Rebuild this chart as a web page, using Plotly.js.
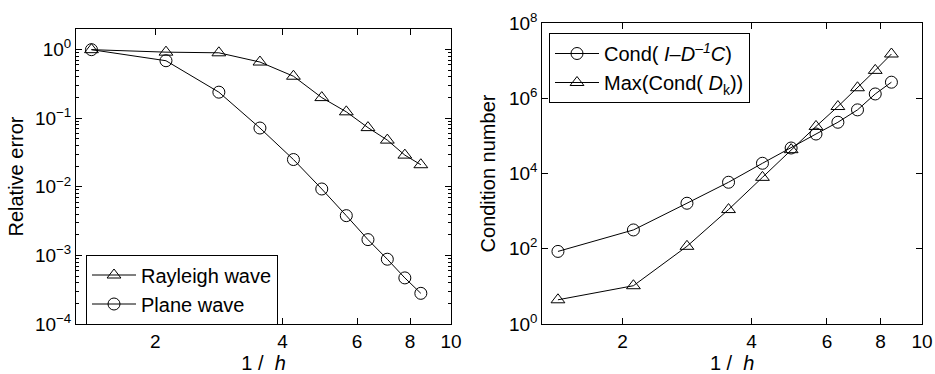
<!DOCTYPE html>
<html><head><meta charset="utf-8">
<script src="https://cdn.plot.ly/plotly-3.0.1.min.js"></script>
<style>html,body{margin:0;padding:0;background:#fff}#chart{width:935px;height:374px}</style>
</head><body><div id="chart"></div>
<script>
// ---- data ----
const invH = [1.414, 2.121, 2.828, 3.536, 4.243, 4.950, 5.657, 6.364, 7.071, 7.778, 8.485];
const rayleighErr = [1.0, 0.92, 0.90, 0.66, 0.41, 0.20, 0.124, 0.073, 0.048, 0.029, 0.021];
const planeErr = [1.0, 0.69, 0.24, 0.072, 0.025, 0.0093, 0.0038, 0.0017, 0.00088, 0.00047, 0.00028];
const condIDC = [85, 316, 1620, 5850, 18700, 47600, 112000, 230000, 491000, 1.3e6, 2.67e6];
const maxCondDk = [4.4, 10.4, 116, 1100, 7900, 43000, 178000, 603000, 1.9e6, 5.5e6, 1.5e7];

const xTickVals = [2, 4, 6, 8, 10];
const xTickText = ['2', '4', '6', '8', '10'];
const leftYTickVals = [1e-4, 1e-3, 1e-2, 1e-1, 1];
const leftYTickText = ['10<sup>−4</sup>', '10<sup>−3</sup>', '10<sup>−2</sup>', '10<sup>−1</sup>', '10<sup>0</sup>'];
const rightYTickVals = [1, 1e2, 1e4, 1e6, 1e8];
const rightYTickText = ['10<sup>0</sup>', '10<sup>2</sup>', '10<sup>4</sup>', '10<sup>6</sup>', '10<sup>8</sup>'];

const names = {
  rayleigh: 'Rayleigh wave',
  plane: 'Plane wave',
  cond: 'Cond( <i>I</i>–<i>D</i><sup><i>–1</i></sup><i>C</i>)',
  maxc: 'Max(Cond( <i>D</i><sub>k</sub>))'
};
// ---------------------------------------

const FONT = 'Liberation Sans, Arial, Helvetica, sans-serif';
const fnt = (s) => ({family: FONT, size: s, color: '#000'});

const minorLeft = [];
for (let e = -4; e <= -1; e++) for (let m = 2; m <= 9; m++) minorLeft.push(m * Math.pow(10, e));

const lineStyle = {color: '#000', width: 1};
const mk = (sym, size) => ({symbol: sym, size: size, color: '#000', line: {color: '#000', width: 1}});

const traces = [
  {x: invH, y: rayleighErr, name: names.rayleigh, mode: 'lines+markers', line: lineStyle,
   marker: mk('triangle-up-open', 12), xaxis: 'x', yaxis: 'y', legend: 'legend'},
  {x: invH, y: planeErr, name: names.plane, mode: 'lines+markers', line: lineStyle,
   marker: mk('circle-open', 12), xaxis: 'x', yaxis: 'y', legend: 'legend'},
  {x: invH, y: condIDC, name: names.cond, mode: 'lines+markers', line: lineStyle,
   marker: mk('circle-open', 12), xaxis: 'x2', yaxis: 'y2', legend: 'legend2'},
  {x: invH, y: maxCondDk, name: names.maxc, mode: 'lines+markers', line: lineStyle,
   marker: mk('triangle-up-open', 12), xaxis: 'x2', yaxis: 'y2', legend: 'legend2'}
];

const common = {
  type: 'log', gridcolor: 'rgba(0,0,0,0)', showline: true, linecolor: '#000', linewidth: 1,
  mirror: 'allticks', ticks: 'inside', ticklen: 6, tickwidth: 1, tickcolor: '#000',
  tickfont: fnt(19)
};

function xaxis(domain, anchor) {
  return Object.assign({}, common, {
    domain: domain, anchor: anchor, range: [Math.log10(1.3), 1],
    tickmode: 'array', tickvals: xTickVals, ticktext: xTickText,
    title: {text: '1 /&nbsp; <i>h</i>', font: fnt(20), standoff: 10}
  });
}

// plot area: x 76..922, y 23..324 (pixels)
const layout = {
  width: 935, height: 374,
  margin: {l: 76, r: 13, t: 23, b: 50},
  paper_bgcolor: '#fff', plot_bgcolor: '#fff',
  font: fnt(19),
  xaxis: xaxis([0, 0.4433], 'y'),
  xaxis2: xaxis([0.5512, 1], 'y2'),
  yaxis: Object.assign({}, common, {
    domain: [0, 0.980], anchor: 'x', range: [-4, 0.301],
    tickmode: 'array', tickvals: leftYTickVals, ticktext: leftYTickText,
    minor: {tickmode: 'array', tickvals: minorLeft, ticks: 'inside', ticklen: 3, tickcolor: '#000', tickwidth: 1, showgrid: false},
    title: {text: 'Relative error', font: fnt(20), standoff: 5}
  }),
  yaxis2: Object.assign({}, common, {
    domain: [0, 1], anchor: 'x2', range: [0, 8],
    tickmode: 'array', tickvals: rightYTickVals, ticktext: rightYTickText,
    title: {text: 'Condition number', font: fnt(20), standoff: 7}
  }),
  legend: {
    x: (86 - 76) / 846, y: 1 - (289.5 - 23) / 301, xanchor: 'left', yanchor: 'middle',
    bgcolor: '#fff', bordercolor: '#000', borderwidth: 1, font: fnt(20),
    traceorder: 'normal', itemwidth: 44, tracegroupgap: 0
  },
  legend2: {
    x: (549 - 76) / 846, y: 1 - (68 - 23) / 301, xanchor: 'left', yanchor: 'middle',
    bgcolor: '#fff', bordercolor: '#000', borderwidth: 1, font: fnt(20),
    traceorder: 'normal', itemwidth: 44, tracegroupgap: 0
  },
  showlegend: true
};

Plotly.newPlot('chart', traces, layout, {staticPlot: true, displayModeBar: false});
</script>
</body></html>
